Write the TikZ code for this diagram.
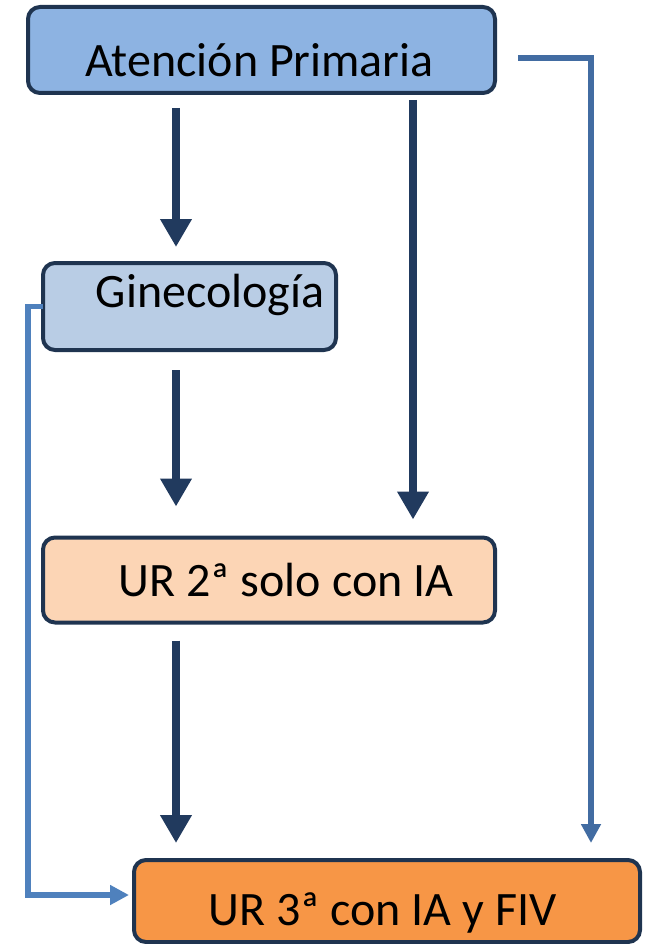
\documentclass[tikz,border=0pt]{standalone}
\usepackage{fontspec}
\setmainfont{Carlito}
\usepackage{xcolor}
\usetikzlibrary{arrows.meta}

\definecolor{boxline}{RGB}{31,52,80}
\definecolor{apfill}{RGB}{141,179,226}
\definecolor{ginfill}{RGB}{185,205,229}
\definecolor{urdosfill}{RGB}{252,213,181}
\definecolor{urtresfill}{RGB}{247,150,70}
\definecolor{flowdark}{RGB}{33,58,94}
\definecolor{bypassblue}{RGB}{79,129,189}
\definecolor{sideblue}{RGB}{66,108,162}

\begin{document}
\begin{tikzpicture}[x=1pt, y=-1pt]
    % Styles
    \tikzstyle{block} = [rectangle, draw=boxline, line width=4pt, rounded corners=12pt, outer sep=0pt, inner sep=0pt]
    \tikzstyle{txt} = [font=\fontsize{48}{56}\selectfont, text height=0pt, text depth=0pt, inner sep=0pt]
    \tikzstyle{flow} = [line width=8pt, draw=flowdark, -{Triangle[width=30pt,length=28pt]}]
    \tikzstyle{bypass} = [line width=5.5pt, -{Triangle[width=19pt,length=19pt]}]

    \useasboundingbox (0,0) rectangle (649,944);

    % Nodes
    \node [block, fill=apfill, minimum width=467pt, minimum height=86pt,
        label={[txt, xshift=-2pt, yshift=-27pt]center:Atención Primaria}] (ap) at (261.5,50) {};
    \node [block, fill=ginfill, minimum width=293pt, minimum height=87pt,
        label={[txt, xshift=20.5pt, yshift=-0.5pt]center:Ginecología}] (gin) at (189.5,306.5) {};
    \node [block, fill=urdosfill, minimum width=452pt, minimum height=85pt,
        label={[txt, xshift=17pt, yshift=-16pt]center:UR 2ª solo con IA}] (urdos) at (269,580) {};
    \node [block, fill=urtresfill, minimum width=506pt, minimum height=82pt,
        label={[txt, xshift=-4.5pt, yshift=-24pt]center:UR 3ª con IA y FIV}] (urtres) at (387,901) {};

    % Connections
    \draw[flow] ([xshift=-85.5pt,yshift=-15pt]ap.south) -- ([xshift=-13.5pt,yshift=16pt]gin.north);
    \draw[flow] ([xshift=151.5pt,yshift=-7pt]ap.south) -- ([xshift=144pt,yshift=18pt]urdos.north);
    \draw[flow] ([xshift=-13.5pt,yshift=-20pt]gin.south) -- ([xshift=-93pt,yshift=31pt]urdos.north);
    \draw[flow] ([xshift=-93pt,yshift=-18pt]urdos.south) -- ([xshift=-211pt,yshift=17pt]urtres.north);

    \draw[bypass, sideblue] ([xshift=23pt,yshift=-8pt]ap.east) -| ([xshift=-49pt,yshift=17pt]urtres.north east);
    \draw[bypass, bypassblue] (gin.west) -- ++(-15pt,0) |- ([xshift=-5pt,yshift=6pt]urtres.west);
\end{tikzpicture}
\end{document}
